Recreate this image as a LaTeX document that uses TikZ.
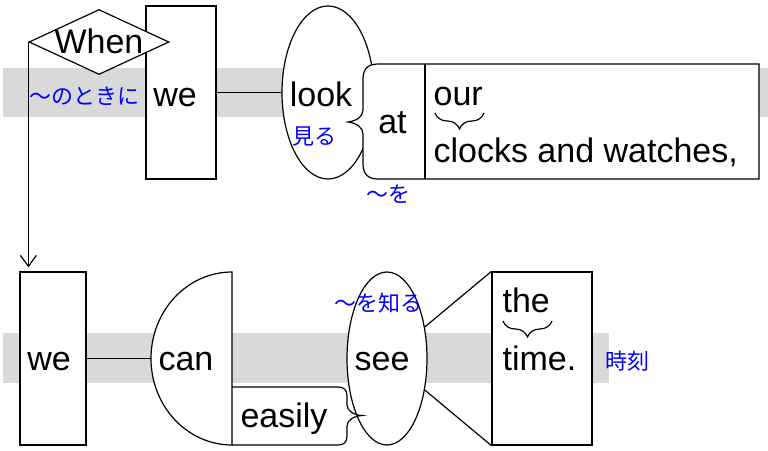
\documentclass[tikz,border=0pt]{standalone}
\usepackage{fontspec}
\setmainfont{Liberation Sans}
\newfontfamily\jpfont{Noto Sans CJK JP}
\usetikzlibrary{shapes.geometric,decorations.pathreplacing,arrows.meta}
\begin{document}
\begin{tikzpicture}[x=1pt,y=-1pt,line width=1.2pt,
		band/.style={fill=black!15},
		wordbox/.style={draw,fill=white,inner sep=0pt},
		word/.style={font=\fontsize{34}{40}\selectfont,inner sep=0pt},
		gloss/.style={font=\jpfont\fontsize{22}{26}\selectfont,text=blue,inner sep=0pt},
		underbrace/.style={decorate,decoration={brace,mirror,amplitude=16pt}},
		>={Straight Barb[length=11pt,width=16pt]}]
	\useasboundingbox (0,0) rectangle (768,450);
	\fill[band] (3,68) rectangle (768,117);
	\fill[band] (3,333) rectangle (609,383);

	% first clause
	\node[wordbox,minimum width=70pt,minimum height=173pt] (we1) at (181,92.5) {};
	\node[wordbox,diamond,minimum width=140pt,minimum height=65pt] (when) at (99,42) {};
	\node[word,anchor=base] (whenword) at (99,53) {When};
	\node[wordbox,ellipse,minimum width=92pt,minimum height=173pt] (look) at (328,92.5) {};
	\draw (we1.east) -- (look.west);
	\draw[fill=white]
		(759,64) -- (378,64) .. controls (368,64) and (363,69) .. (363,79)
		-- (363,110) .. controls (363,117) and (356,121) .. (348,122)
		.. controls (356,123) and (363,127) .. (363,134)
		-- (363,164) .. controls (363,174) and (368,179) .. (378,179)
		-- (759,179) -- cycle;
	\draw (425,64) -- (425,179);
	\node[word,anchor=base] (we1word) at (175,106) {we};
	\node[word,anchor=base] (lookword) at (321,106) {look};
	\node[word,anchor=base] (atword) at (392.5,133) {at};
	\node[word,anchor=base west] (ourword) at (433,105) {our};
	\node[word,anchor=base west] (clocksword) at (433,162) {clocks and watches,};
	\draw[underbrace] (435,113) -- (484,113);
	\node[gloss] (tokini) at (84,96.5) {〜のときに};
	\node[gloss] (miru) at (314,137) {見る};
	\node[gloss] (wo) at (388,194) {〜を};

	% second clause
	\node[wordbox,minimum width=66pt,minimum height=173pt] (we2) at (53,358.5) {};
	\draw[->,shorten >=4pt] (when.west) -- (when.west |- we2.north);
	\draw[fill=white] (232,272) arc[start angle=270,end angle=90,x radius=81,y radius=86.5] -- cycle;
	\coordinate (can) at (151,358.5);
	\draw (we2.east) -- (can);
	\node[wordbox,ellipse,minimum width=80pt,minimum height=173pt] (see) at (387,358.5) {};
	\draw (232,387) -- (338,387) .. controls (344,387) and (347,390) .. (347,396)
		-- (347,405) .. controls (347,411) and (354,415) .. (362,415.5)
		.. controls (354,416) and (347,420) .. (347,426)
		-- (347,436) .. controls (347,442) and (344,445) .. (338,445) -- (232,445);
	\node[wordbox,minimum width=100pt,minimum height=173pt] (timebox) at (542,358.5) {};
	\draw (see) -- (timebox.north west);
	\draw (see) -- (timebox.south west);
	\node[word,anchor=base] (we2word) at (49,370) {we};
	\node[word,anchor=base] (canword) at (186,370) {can};
	\node[word,anchor=base] (easilyword) at (284,427) {easily};
	\node[word,anchor=base] (seeword) at (382,370) {see};
	\node[word,anchor=base west] (theword) at (502,312) {the};
	\node[word,anchor=base west] (timeword) at (502,370) {time.};
	\draw[underbrace] (503,321) -- (552,321);
	\node[gloss] (woshiru) at (378,303) {〜を知る};
	\node[gloss] (jikoku) at (627,361) {時刻};
\end{tikzpicture}
\end{document}
